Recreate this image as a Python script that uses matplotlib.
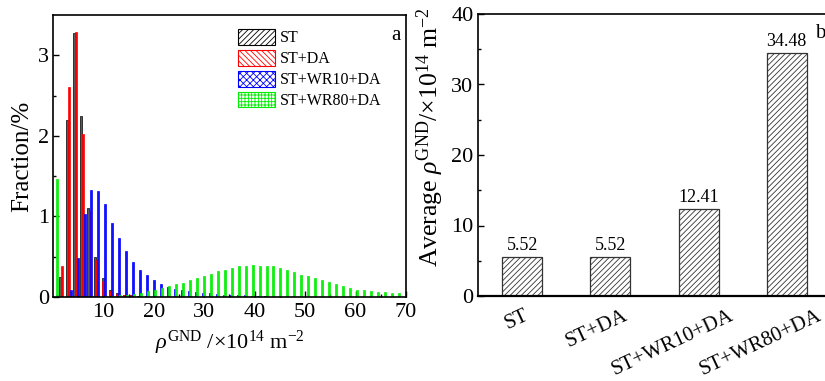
import numpy as np
import matplotlib
matplotlib.use("Agg")
import matplotlib.pyplot as plt
from matplotlib.patches import Patch
from matplotlib.transforms import offset_copy

plt.rcParams['font.family'] = ['Liberation Serif', 'DejaVu Serif']
plt.rcParams['mathtext.fontset'] = 'custom'
plt.rcParams['mathtext.rm'] = 'Liberation Serif'
plt.rcParams['mathtext.it'] = 'Liberation Serif:italic'
plt.rcParams['mathtext.bf'] = 'Liberation Serif:bold'
plt.rcParams['hatch.linewidth'] = 0.6

# ---------------- data: panel a (histograms) ----------------
series_names = ['ST', 'ST+DA', 'ST+WR10+DA', 'ST+WR80+DA']

# first bin centre / bin step for each series
st_start, st_step = 1.32, 1.42
da_start, da_step = 1.72, 1.38
wr10_start, wr10_step = 0.73, 1.38
wr80_start, wr80_step = 0.85, 1.383

st_frac = [0.25, 2.20, 3.28, 2.25, 1.11, 0.50, 0.23, 0.09, 0.045, 0.03,
           0.02, 0.015, 0.01, 0.005]
da_frac = [0.38, 2.61, 3.29, 2.02, 1.07, 0.46, 0.20, 0.08, 0.04, 0.025,
           0.02, 0.01, 0.005]
wr10_frac = [0.02, 0.0, 0.09, 0.48, 1.03, 1.33, 1.32, 1.15, 0.92, 0.73,
             0.57, 0.43, 0.34, 0.27, 0.21, 0.165, 0.13, 0.105, 0.09, 0.073,
             0.06, 0.05, 0.045, 0.04, 0.03, 0.025, 0.02, 0.02, 0.015, 0.01,
             0.01, 0.005]
wr80_frac = [1.47, 0.0, 0.0, 0.0, 0.0, 0.003, 0.005, 0.008, 0.012, 0.02,
             0.03, 0.04, 0.055, 0.075, 0.09, 0.11, 0.135, 0.16, 0.17, 0.21,
             0.235, 0.255, 0.285, 0.32, 0.34, 0.365, 0.385, 0.39, 0.40, 0.385,
             0.385, 0.385, 0.365, 0.33, 0.31, 0.27, 0.26, 0.24, 0.21, 0.18,
             0.16, 0.135, 0.115, 0.09, 0.083, 0.075, 0.068, 0.057, 0.05, 0.045]

# ---------------- data: panel b (averages) ----------------
avg_labels = ['ST', 'ST+DA', 'ST+WR10+DA', 'ST+WR80+DA']
avg_values = [5.52, 5.52, 12.41, 34.48]

colors = ['#000000', '#ff0000', '#0000ff', '#00ee00']
bar_faces = ['#5a5a5a', '#ff0000', '#1010ff', '#10f010']
hatches = ['//////', '\\\\\\\\\\\\', 'xxxxx', '+++++']

W, H = 825, 381
fig = plt.figure(figsize=(W / 100, H / 100), dpi=100)

# ---------------- panel a ----------------
axa = fig.add_axes([53 / W, 1 - 297 / H, 353 / W, 282 / H])
specs = [(st_start, st_step, st_frac), (da_start, da_step, da_frac),
         (wr10_start, wr10_step, wr10_frac), (wr80_start, wr80_step, wr80_frac)]
for (start, step, vals), c, fc in zip(specs, colors, bar_faces):
    x = start + step * np.arange(len(vals))
    axa.bar(x, vals, width=0.4, facecolor=fc, edgecolor=c,
            linewidth=0.5, zorder=2)

axa.set_xlim(0, 70)
axa.set_ylim(0, 3.5)
axa.set_xticks([10, 20, 30, 40, 50, 60, 70])
axa.set_xticks(np.arange(5, 70, 10), minor=True)
axa.set_yticks([0, 1, 2, 3])
axa.set_yticks([0.5, 1.5, 2.5], minor=True)
axa.tick_params(which='both', direction='in', labelsize=16, width=1.0)
axa.tick_params(which='major', length=4)
axa.tick_params(which='minor', length=2.5)
axa.tick_params(axis='x', pad=4)
axa.tick_params(axis='y', pad=3)
for s in axa.spines.values():
    s.set_linewidth(1.2)
axa.set_ylabel('Fraction/%', fontsize=18, labelpad=3)
axa.set_xlabel(r'$\rho^{\rm GND}$ /×10$^{14}$ m$^{-2}$', fontsize=16, labelpad=5)
axa.text(0.985, 0.96, 'a', transform=axa.transAxes, ha='right', va='top',
         fontsize=15)

handles = [Patch(facecolor='white', edgecolor=c, hatch=h, linewidth=0.8)
           for c, h in zip(colors, hatches)]
fig.legend(handles, series_names, loc='upper left',
           bbox_to_anchor=(238 / W, 1 - 29 / H), frameon=False,
           fontsize=11.5, handlelength=2.3, handleheight=1.15,
           labelspacing=0.22, handletextpad=0.3, borderpad=0, borderaxespad=0)

# ---------------- panel b ----------------
axb = fig.add_axes([478.3 / W, 1 - 296 / H, (830.7 - 478.3) / W, 282 / H])
xb = np.arange(1, len(avg_values) + 1)
axb.bar(xb, avg_values, width=0.455, facecolor='white',
        edgecolor='#333333', hatch='//////', linewidth=0.9)
for xi, v in zip(xb, avg_values):
    axb.text(xi, v + 0.4, f'{v:.2f}', ha='center', va='bottom', fontsize=13)
axb.set_xlim(0.5, 4.5)
axb.set_ylim(0, 40)
axb.set_yticks([0, 10, 20, 30, 40])
axb.set_yticks([5, 15, 25, 35], minor=True)
axb.set_xticks(xb)
axb.set_xticklabels([])
axb.tick_params(axis='y', which='both', direction='in', labelsize=16, width=1.0)
axb.tick_params(axis='y', which='major', length=4)
axb.tick_params(axis='y', which='minor', length=2.5)
axb.tick_params(axis='x', length=0)
for s in axb.spines.values():
    s.set_linewidth(1.2)
axb.spines['bottom'].set_linewidth(1.6)
axb.set_ylabel(r'Average $\rho^{\rm GND}$/×10$^{14}$ m$^{-2}$', fontsize=18.5)
axb.yaxis.set_label_coords(-0.093, 0.565)
axb.text(0.985, 0.965, 'b', transform=axb.transAxes, ha='right', va='top',
         fontsize=15, clip_on=False)

# rotated category labels (Origin-style placement)
fig.canvas.draw()
renderer = fig.canvas.get_renderer()
base = axb.get_xaxis_transform()
for xi, lab in zip(xb, avg_labels):
    t = axb.text(xi, 0, lab, rotation=25, ha='center', va='top',
                 fontsize=15, clip_on=False,
                 transform=offset_copy(base, fig=fig, x=0, y=-10, units='dots'))
    bb = t.get_window_extent(renderer)
    t.set_transform(offset_copy(base, fig=fig, x=-0.2 * bb.width, y=-10,
                                units='dots'))

fig.savefig('out.png', dpi=100)
